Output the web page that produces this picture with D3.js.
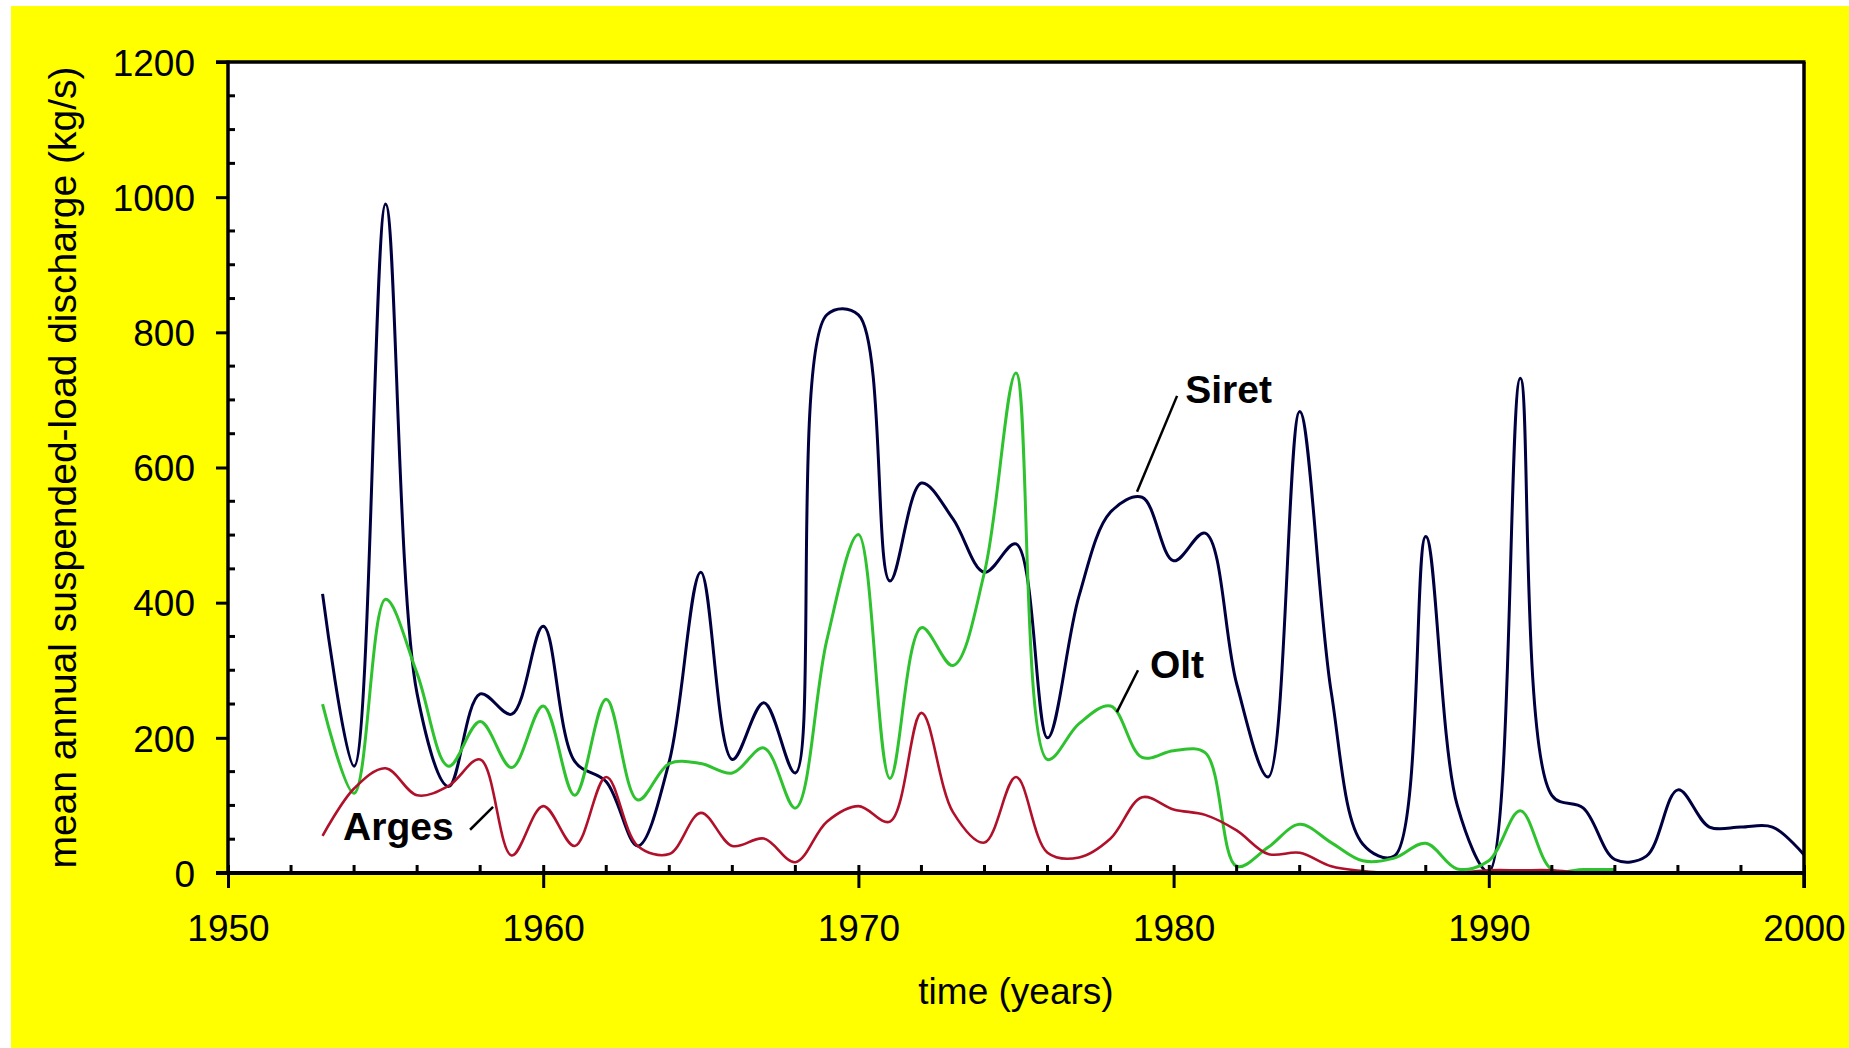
<!DOCTYPE html>
<html>
<head>
<meta charset="utf-8">
<script src="https://cdn.jsdelivr.net/npm/d3@7"></script>
<style>
  html, body { margin: 0; padding: 0; background: #ffffff; }
  svg { display: block; font-family: Arial, "Liberation Sans", sans-serif; }
</style>
</head>
<body>
<svg id="chart"></svg>
<script>
// Data (kg/s), one value per year

var years = [1953, 1954, 1955, 1956, 1957, 1958, 1959, 1960, 1961, 1962,
  1963, 1964, 1965, 1966, 1967, 1968, 1969, 1970, 1971, 1972,
  1973, 1974, 1975, 1976, 1977, 1978, 1979, 1980, 1981, 1982,
  1983, 1984, 1985, 1986, 1987, 1988, 1989, 1990, 1991, 1992,
  1993, 1994, 1995, 1996, 1997, 1998, 1999, 2000];

var siretValues = [413, 158, 990, 265, 128, 265, 235, 365, 165, 135,
  40, 165, 445, 168, 252, 148, 826, 826, 432, 577,
  524, 445, 487, 200, 410, 534, 556, 462, 503, 280,
  142, 683, 268, 43, 25, 498, 100, 2, 732, 115,
  96, 20, 25, 123, 68, 68, 68, 27];

var oltValues = [250, 118, 405, 295, 158, 224, 156, 247, 115, 257,
  108, 162, 162, 148, 185, 96, 345, 501, 140, 363,
  307, 445, 740, 168, 221, 247, 171, 181, 178, 10,
  38, 72, 45, 18, 22, 44, 6, 18, 92, 5,
  5, 5];

var argesValues = [55, 125, 155, 115, 129, 168, 26, 99, 40, 142,
  40, 28, 89, 40, 51, 16, 76, 99, 76, 237,
  90, 45, 142, 30, 23, 51, 112, 94, 86, 63,
  28, 30, 10, 3, 0, 0, 0, 4, 4, 4,
  0, 0, 0];

var xTickLabels = [1950, 1960, 1970, 1980, 1990, 2000];
var yTickLabels = [0, 200, 400, 600, 800, 1000, 1200];

// Layout
var W = 1849, H = 1048;
var plot = { left: 228, top: 62, right: 1804, bottom: 873 };

var svg = d3.select("#chart").attr("width", W).attr("height", H);

// yellow backdrop and white plot area
svg.append("rect").attr("x", 11).attr("y", 6).attr("width", W - 11).attr("height", H - 6).attr("fill", "#ffff00");
svg.append("rect")
  .attr("x", plot.left).attr("y", plot.top)
  .attr("width", plot.right - plot.left).attr("height", plot.bottom - plot.top)
  .attr("fill", "#ffffff");

const x = d3.scaleLinear().domain([1950, 2000]).range([plot.left, plot.right]);
const y = d3.scaleLinear().domain([0, 1200]).range([plot.bottom, plot.top]);

function toPoints(values) {
  return values.map(function (v, i) { return [years[i], v]; });
}

var line = d3.line()
  .x(function (d) { return x(d[0]); })
  .y(function (d) { return y(d[1]); })
  .curve(d3.curveCatmullRom.alpha(0.5));

// series lines
svg.append("path")
  .attr("fill", "none")
  .attr("stroke", "#000040")
  .attr("stroke-width", 3)
  .attr("d", line(toPoints(siretValues)));

svg.append("path")
  .attr("fill", "none")
  .attr("stroke", "#2fc22f")
  .attr("stroke-width", 3)
  .attr("d", line(toPoints(oltValues)));

svg.append("path")
  .attr("fill", "none")
  .attr("stroke", "#b0102a")
  .attr("stroke-width", 2.6)
  .attr("d", line(toPoints(argesValues)));

// Y axis
var yAxis = svg.append("g")
  .attr("transform", `translate(${plot.left},0)`)
  .call(d3.axisLeft(y).tickValues(yTickLabels).tickFormat(d3.format("d"))
    .tickSizeInner(12).tickSizeOuter(0).tickPadding(21));
yAxis.select(".domain").remove();
yAxis.selectAll("line").attr("stroke", "#000").attr("stroke-width", 3);
yAxis.selectAll("text").attr("font-size", 37).attr("fill", "#000").attr("dy", "0.36em");

// minor y ticks every 50, pointing inside
var yMinor = d3.range(50, 1200, 50).filter(function (d) { return d % 200 != 0; });
svg.selectAll(".yminor")
  .data(yMinor)
  .enter()
  .append("line")
  .attr("x1", plot.left).attr("x2", plot.left + 7)
  .attr("y1", function (d) { return y(d); }).attr("y2", function (d) { return y(d); })
  .attr("stroke", "#000").attr("stroke-width", 3);

// X axis
var xAxis = svg.append("g")
  .attr("transform", `translate(0,${plot.bottom})`)
  .call(d3.axisBottom(x).tickValues(xTickLabels).tickFormat(d3.format("d"))
    .tickSizeInner(15).tickSizeOuter(0).tickPadding(27));
xAxis.select(".domain").remove();
xAxis.selectAll("line").attr("stroke", "#000").attr("stroke-width", 3).attr("y1", -8);
xAxis.selectAll("text").attr("font-size", 37).attr("fill", "#000");

// minor x ticks every 2 years, pointing inside
var xMinor = d3.range(1952, 2000, 2).filter(function (d) { return d % 10 != 0; });
svg.selectAll(".xminor")
  .data(xMinor)
  .enter()
  .append("line")
  .attr("x1", function (d) { return x(d); }).attr("x2", function (d) { return x(d); })
  .attr("y1", plot.bottom).attr("y2", plot.bottom - 8)
  .attr("stroke", "#000").attr("stroke-width", 3);

// frame
svg.append("line").attr("x1", plot.left).attr("x2", plot.left).attr("y1", plot.top - 1.5).attr("y2", plot.bottom + 2)
  .attr("stroke", "#000").attr("stroke-width", 3.5);
svg.append("line").attr("x1", plot.left - 12).attr("x2", plot.right + 1.5).attr("y1", plot.bottom).attr("y2", plot.bottom)
  .attr("stroke", "#000").attr("stroke-width", 4);
svg.append("line").attr("x1", plot.left - 12).attr("x2", plot.right + 1.5).attr("y1", plot.top).attr("y2", plot.top)
  .attr("stroke", "#000").attr("stroke-width", 3.5);
svg.append("line").attr("x1", plot.right).attr("x2", plot.right).attr("y1", plot.top).attr("y2", plot.bottom + 15)
  .attr("stroke", "#000").attr("stroke-width", 3.5);

// series labels with leader lines (anchors in data units)
var labels = [
  { name: "Siret", tx: 1980.37, ty: 695, from: [1980.11, 706], to: [1978.84, 564] },
  { name: "Olt", tx: 1979.25, ty: 289, from: [1978.87, 300], to: [1978.2, 238] },
  { name: "Arges", tx: 1953.65, ty: 49, from: [1958.41, 98], to: [1957.68, 64] }
];

labels.forEach(function (l) {
  svg.append("line")
    .attr("x1", x(l.from[0])).attr("y1", y(l.from[1]))
    .attr("x2", x(l.to[0])).attr("y2", y(l.to[1]))
    .attr("stroke", "#000").attr("stroke-width", 2.5);
  svg.append("text")
    .attr("x", x(l.tx)).attr("y", y(l.ty))
    .attr("font-size", 39).attr("font-weight", "bold")
    .text(l.name);
});

// axis titles
svg.append("text")
  .attr("x", (plot.left + plot.right) / 2)
  .attr("y", 1004)
  .attr("font-size", 37)
  .style("text-anchor", "middle")
  .text("time (years)");

svg.append("text")
  .attr("transform", `translate(76,${(plot.top + plot.bottom) / 2}) rotate(-90)`)
  .attr("font-size", 39)
  .style("text-anchor", "middle")
  .text("mean annual suspended-load discharge (kg/s)");
</script>
</body>
</html>
